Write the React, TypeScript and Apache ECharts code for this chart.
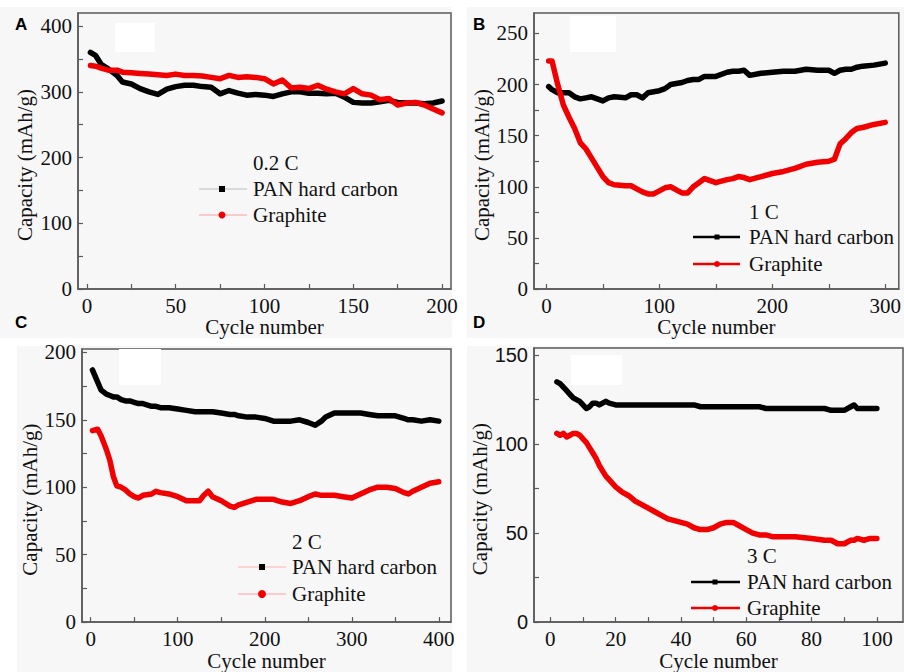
import React, { useEffect, useRef } from 'react';
import * as echarts from 'echarts';

const serif = 'Liberation Serif';
const sans = 'Liberation Sans';
const frame = '#5a5a5a';
const ink = '#111111';
const red = '#f00000';

// ---- Panel A : 0.2 C ----
const aCycles = [2, 5, 8, 12, 17, 20, 25, 30, 35, 40, 45, 50, 55, 60, 65, 70, 75, 80, 85, 90, 95, 100, 105, 110, 115, 120, 125, 130, 135, 140, 145, 150, 155, 160, 165, 170, 175, 180, 185, 190, 195, 200];
const aPan = [360, 355, 342, 335, 325, 315, 312, 305, 300, 296, 304, 308, 310, 310, 308, 307, 297, 302, 298, 295, 296, 295, 293, 297, 300, 300, 298, 298, 297, 298, 292, 284, 283, 283, 285, 287, 284, 283, 283, 282, 283, 286];
const aGraphite = [340, 339, 336, 333, 333, 330, 329, 328, 327, 326, 325, 327, 325, 325, 324, 322, 320, 325, 322, 323, 322, 320, 312, 318, 306, 307, 305, 310, 304, 300, 297, 305, 297, 295, 288, 290, 280, 283, 284, 280, 274, 268];

// ---- Panel B : 1 C ----
const bCycles = [2, 5, 10, 15, 20, 25, 30, 35, 40, 45, 50, 55, 60, 70, 75, 80, 85, 90, 95, 100, 105, 110, 115, 120, 125, 130, 135, 140, 145, 150, 160, 165, 170, 175, 180, 190, 200, 210, 220, 230, 240, 250, 255, 260, 265, 270, 275, 280, 290, 300];
const bPan = [198, 195, 192, 192, 192, 188, 186, 187, 188, 186, 184, 187, 188, 187, 190, 190, 187, 192, 193, 194, 196, 200, 201, 202, 204, 205, 205, 208, 208, 208, 212, 213, 213, 214, 209, 211, 212, 213, 213, 215, 214, 214, 211, 214, 215, 215, 217, 218, 219, 221];
const bGraphite = [223, 223, 200, 180, 168, 157, 143, 137, 128, 119, 110, 104, 102, 101, 101, 98, 95, 93, 93, 96, 99, 100, 97, 94, 94, 100, 104, 108, 106, 104, 107, 108, 110, 109, 107, 110, 113, 115, 118, 122, 124, 125, 127, 142, 147, 153, 157, 158, 161, 163];

// ---- Panel C : 2 C ----
const cCycles = [2, 8, 12, 18, 22, 26, 30, 35, 40, 45, 50, 55, 60, 70, 75, 80, 90, 100, 110, 120, 125, 130, 135, 140, 150, 160, 165, 170, 180, 190, 200, 210, 220, 230, 240, 250, 258, 265, 270, 280, 290, 300, 310, 320, 330, 340, 350, 360, 365, 370, 380, 390, 400];
const cPan = [187, 178, 172, 169, 168, 167, 167, 165, 164, 164, 163, 162, 162, 160, 160, 159, 159, 158, 157, 156, 156, 156, 156, 156, 155, 154, 154, 153, 152, 152, 151, 149, 149, 149, 150, 148, 146, 149, 152, 155, 155, 155, 155, 154, 153, 153, 153, 151, 150, 150, 149, 150, 149];
const cGraphite = [142, 143, 138, 128, 120, 108, 101, 100, 98, 95, 93, 92, 94, 95, 97, 96, 95, 93, 90, 90, 90, 94, 97, 93, 90, 86, 85, 87, 89, 91, 91, 91, 89, 88, 90, 93, 95, 94, 94, 94, 93, 92, 95, 98, 100, 100, 99, 96, 95, 97, 100, 103, 104];

// ---- Panel D : 3 C ----
const dCycles = [2, 3, 4, 5, 6, 7, 8, 9, 10, 11, 12, 13, 14, 15, 16, 17, 18, 20, 22, 24, 26, 28, 30, 32, 34, 36, 38, 40, 42, 44, 46, 48, 50, 52, 54, 56, 58, 60, 62, 64, 66, 68, 70, 75, 80, 84, 86, 88, 90, 92, 93, 94, 96, 98, 100];
const dPan = [135, 134, 132, 130, 128, 126, 125, 124, 122, 120, 121, 123, 123, 122, 123, 124, 123, 122, 122, 122, 122, 122, 122, 122, 122, 122, 122, 122, 122, 122, 121, 121, 121, 121, 121, 121, 121, 121, 121, 121, 120, 120, 120, 120, 120, 120, 119, 119, 119, 121, 122, 120, 120, 120, 120];
const dGraphite = [106, 105, 106, 104, 105, 106, 106, 105, 103, 101, 98, 95, 92, 88, 85, 82, 80, 76, 73, 71, 68, 66, 64, 62, 60, 58, 57, 56, 55, 53, 52, 52, 53, 55, 56, 56, 54, 52, 50, 49, 49, 48, 48, 48, 47, 46, 46, 44, 44, 46, 46, 47, 46, 47, 47];

// ---- tick values ----
const aXLabels = [0, 50, 100, 150, 200];
const aXTicks = [0, 25, 50, 75, 100, 125, 150, 175, 200];
const aYLabels = [0, 100, 200, 300, 400];
const aYTicks = [0, 50, 100, 150, 200, 250, 300, 350, 400];
const bXLabels = [0, 100, 200, 300];
const bXTicks = [0, 50, 100, 150, 200, 250, 300];
const bYLabels = [0, 50, 100, 150, 200, 250];
const bYTicks = [0, 25, 50, 75, 100, 125, 150, 175, 200, 225, 250];
const cXLabels = [0, 100, 200, 300, 400];
const cXTicks = [0, 50, 100, 150, 200, 250, 300, 350, 400];
const cYLabels = [0, 50, 100, 150, 200];
const cYTicks = [0, 25, 50, 75, 100, 125, 150, 175, 200];
const dXLabels = [0, 20, 40, 60, 80, 100];
const dXTicks = [0, 10, 20, 30, 40, 50, 60, 70, 80, 90, 100];
const dYLabels = [0, 50, 100, 150];
const dYTicks = [0, 25, 50, 75, 100, 125, 150];

const rateLabels = ['0.2 C', '1 C', '2 C', '3 C'];
const panelLetters = ['A', 'B', 'C', 'D'];
const seriesNames = ['PAN hard carbon', 'Graphite'];

function pairs(x: number[], y: number[]) {
  return x.map((c, i) => [c, y[i]]);
}

function xAxis(gridIndex: number, min: number, max: number, labels: number[], ticks: number[]) {
  return {
    type: 'value', gridIndex, min, max,
    axisLine: { show: true, onZero: false, lineStyle: { color: frame, width: 1.5 } },
    axisTick: { show: true, inside: true, length: 5, customValues: ticks, lineStyle: { color: frame, width: 1.2 } },
    axisLabel: { customValues: labels, color: ink, fontFamily: serif, fontSize: 21, margin: 6 },
    splitLine: { show: false },
    name: 'Cycle number', nameLocation: 'middle', nameGap: 25,
    nameTextStyle: { fontFamily: serif, fontSize: 21, color: ink },
  };
}

function yAxis(gridIndex: number, max: number, labels: number[], ticks: number[], gap: number, font: string, size: number) {
  return {
    type: 'value', gridIndex, min: 0, max,
    axisLine: { show: true, onZero: false, lineStyle: { color: frame, width: 1.5 } },
    axisTick: { show: true, inside: true, length: 5, customValues: ticks, lineStyle: { color: frame, width: 1.2 } },
    axisLabel: { customValues: labels, color: ink, fontFamily: font, fontSize: size, margin: 6 },
    splitLine: { show: false },
    name: 'Capacity (mAh/g)', nameLocation: 'middle', nameGap: gap,
    nameTextStyle: { fontFamily: serif, fontSize: 21, color: ink, padding: [0, 28, 0, 0] },
  };
}

function line(name: string, idx: number, data: number[][], color: string) {
  return {
    type: 'line', name, xAxisIndex: idx, yAxisIndex: idx, data,
    symbol: 'none', lineStyle: { color, width: 5.5, join: 'round', cap: 'round' },
    itemStyle: { color }, z: name === seriesNames[0] ? 3 : 4,
  };
}

type LegendSpec = { title: string; tx: number; ty: number; x1: number; x2: number; xm: number; y1: number; y2: number; c1: string; c2: string; w: number; sq: number; r: number };

function legendGraphics(s: LegendSpec) {
  const txt = (text: string, x: number, y: number) => ({
    type: 'text', x, y, style: { text, fill: ink, font: `21px ${serif}`, textVerticalAlign: 'middle', textAlign: 'left' }, z: 10,
  });
  return [
    txt(s.title, s.tx, s.ty),
    { type: 'line', shape: { x1: s.x1, y1: s.y1, x2: s.x2, y2: s.y1 }, style: { stroke: s.c1, lineWidth: s.w }, z: 10 },
    { type: 'rect', shape: { x: s.xm - s.sq / 2, y: s.y1 - s.sq / 2, width: s.sq, height: s.sq }, style: { fill: '#000' }, z: 11 },
    txt(seriesNames[0], s.tx, s.y1),
    { type: 'line', shape: { x1: s.x1, y1: s.y2, x2: s.x2, y2: s.y2 }, style: { stroke: s.c2, lineWidth: s.w }, z: 10 },
    { type: 'circle', shape: { cx: s.xm, cy: s.y2, r: s.r }, style: { fill: red }, z: 11 },
    txt(seriesNames[1], s.tx, s.y2),
  ];
}

export default function App() {
  const ref = useRef<HTMLDivElement>(null);
  useEffect(() => {
    if (!ref.current) return;
    const chart = echarts.init(ref.current, undefined, { renderer: 'svg' });
    const gridBase = { show: true, borderColor: frame, borderWidth: 1.5, backgroundColor: 'transparent' };
    const letter = (t: string, x: number, y: number) => ({
      type: 'text', x, y, style: { text: t, fill: '#000', font: `bold 17px ${sans}`, textVerticalAlign: 'middle' }, z: 10,
    });
    const bg = (x: number, y: number, w: number, h: number, fill: string, z: number) => ({
      type: 'rect', shape: { x, y, width: w, height: h }, style: { fill }, z, silent: true,
    });
    chart.setOption({
      animation: false,
      backgroundColor: '#ffffff',
      grid: [
        { ...gridBase, left: 78, top: 13, width: 373, height: 276 },
        { ...gridBase, left: 534, top: 13, width: 369, height: 276 },
        { ...gridBase, left: 82, top: 349, width: 369, height: 276 },
        { ...gridBase, left: 534, top: 348, width: 369, height: 277 },
      ],
      xAxis: [
        xAxis(0, -5, 205, aXLabels, aXTicks),
        xAxis(1, -11, 312, bXLabels, bXTicks),
        xAxis(2, -10, 414, cXLabels, cXTicks),
        xAxis(3, -5, 108, dXLabels, dXTicks),
      ],
      yAxis: [
        yAxis(0, 420, aYLabels, aYTicks, 43, serif, 21),
        yAxis(1, 270, bYLabels, bYTicks, 39, serif, 21),
        yAxis(2, 202.5, cYLabels, cYTicks, 39, serif, 21),
        yAxis(3, 154, dYLabels, dYTicks, 43, sans, 20),
      ],
      series: [
        line(seriesNames[0], 0, pairs(aCycles, aPan), '#000'),
        line(seriesNames[1], 0, pairs(aCycles, aGraphite), red),
        line(seriesNames[0], 1, pairs(bCycles, bPan), '#000'),
        line(seriesNames[1], 1, pairs(bCycles, bGraphite), red),
        line(seriesNames[0], 2, pairs(cCycles, cPan), '#000'),
        line(seriesNames[1], 2, pairs(cCycles, cGraphite), red),
        line(seriesNames[0], 3, pairs(dCycles, dPan), '#000'),
        line(seriesNames[1], 3, pairs(dCycles, dGraphite), red),
      ],
      graphic: [
        bg(0, 7, 452, 331, '#f7f7f7', -100),
        bg(467, 7, 437, 331, '#f7f7f7', -100),
        bg(17, 346, 435, 326, '#f7f7f7', -100),
        bg(467, 346, 437, 326, '#f7f7f7', -100),
        bg(115, 23, 40, 29, '#ffffff', 1),
        bg(570, 16, 46, 36, '#ffffff', 1),
        bg(119, 349, 42, 36, '#ffffff', 1),
        bg(571, 355, 51, 30, '#ffffff', 1),
        letter(panelLetters[0], 15, 24),
        letter(panelLetters[1], 473, 24),
        letter(panelLetters[2], 15, 322),
        letter(panelLetters[3], 473, 322),
        ...legendGraphics({ title: rateLabels[0], tx: 253, ty: 163, x1: 199, x2: 247, xm: 222, y1: 189, y2: 215, c1: '#bdbdbd', c2: '#ff9c9c', w: 1, sq: 6, r: 3.5 }),
        ...legendGraphics({ title: rateLabels[1], tx: 749, ty: 212, x1: 693, x2: 740, xm: 717, y1: 237, y2: 264, c1: '#000', c2: red, w: 2.5, sq: 5, r: 3 }),
        ...legendGraphics({ title: rateLabels[2], tx: 292, ty: 542, x1: 238, x2: 286, xm: 262, y1: 567, y2: 594, c1: '#ffb0b0', c2: '#ff9c9c', w: 1, sq: 6, r: 4 }),
        ...legendGraphics({ title: rateLabels[3], tx: 747, ty: 556, x1: 691, x2: 740, xm: 715, y1: 582, y2: 608, c1: '#000', c2: red, w: 2.5, sq: 5, r: 3 }),
      ],
    });
    return () => chart.dispose();
  }, []);
  return <div ref={ref} style={{ position: 'absolute', left: 0, top: 0, width: 904, height: 672 }} />;
}
